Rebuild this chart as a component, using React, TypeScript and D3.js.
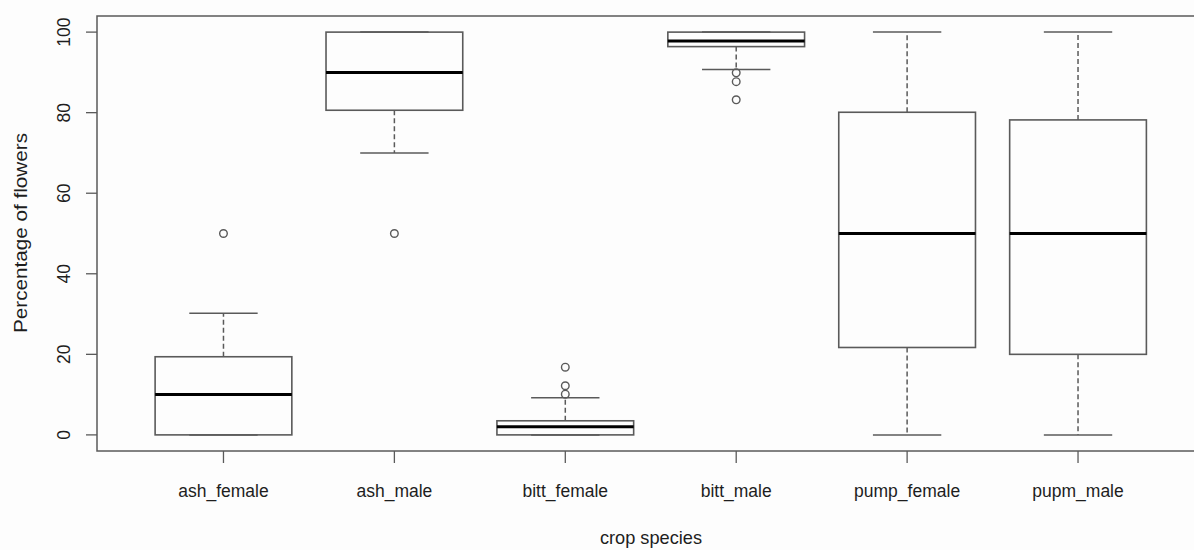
import React from "react";
import * as d3 from "d3";

// crop species categories
const categories = ["ash_female", "ash_male", "bitt_female", "bitt_male", "pump_female", "pupm_male"];

// five-number summaries
const lowerWhisker = [0, 70, 0, 90.7, 0, 0];
const q1 = [0, 80.6, 0, 96.4, 21.7, 20];
const median = [10, 90, 2, 97.8, 50, 50];
const q3 = [19.4, 100, 3.5, 100, 80.1, 78.2];
const upperWhisker = [30.2, 100, 9.2, 100, 100, 100];
const outliers = [[50], [50], [10.1, 12.2, 16.8], [89.9, 87.7, 83.2], [], []];

const yTicks = [0, 20, 40, 60, 80, 100];

const W = 1194;
const H = 550;
const font = "'Liberation Sans', Arial, sans-serif";
const lineCol = "#5a5a5a";
const textCol = "#1e1e1e";

const App = () => {
    // R style: xlim 0.5..n+0.5 and ylim 0..100, both padded by 4%
    const x = d3.scaleLinear().domain([0.26, 6.74]).range([97, 1204.5]);
    const y = d3.scaleLinear().domain([-4, 104]).range([451, 16]);

    const step = x(2) - x(1);
    const boxW = step * 0.8;
    const capW = boxW / 2;

    return (
        <svg width={W} height={H} style={{ position: "absolute", left: 0, top: 0, background: "#fdfdfd" }}>
            {/* plot frame (right edge runs off the image) */}
            <rect x={97} y={16} width={1204.5 - 97} height={451 - 16} fill="none" stroke={lineCol} strokeWidth={1.5} />

            {/* y axis ticks */}
            {yTicks.map(t => (
                <g key={t}>
                    <line x1={86} x2={97} y1={y(t)} y2={y(t)} stroke={lineCol} strokeWidth={1.3} />
                    <text transform={`translate(70,${y(t)}) rotate(-90)`} textAnchor="middle"
                        fontFamily={font} fontSize={17.5} fill={textCol}>{t}</text>
                </g>
            ))}
            <text transform={`translate(27,233) rotate(-90) scale(1.15,1)`} textAnchor="middle"
                fontFamily={font} fontSize={18} fill={textCol}>Percentage of flowers</text>

            {/* x axis ticks and labels */}
            {categories.map((c, i) => (
                <g key={c}>
                    <line x1={x(i + 1)} x2={x(i + 1)} y1={451} y2={463} stroke={lineCol} strokeWidth={1.3} />
                    <text x={x(i + 1)} y={497} textAnchor="middle" fontFamily={font} fontSize={17.5} fill={textCol}>{c}</text>
                </g>
            ))}
            <text x={651} y={544} textAnchor="middle" fontFamily={font} fontSize={18.2} fill={textCol}>crop species</text>

            {/* boxes */}
            {categories.map((c, i) => {
                const cx = x(i + 1);
                return (
                    <g key={"box" + c}>
                        <line x1={cx} x2={cx} y1={y(q3[i])} y2={y(upperWhisker[i])} stroke={lineCol} strokeWidth={1.5} strokeDasharray="5,3" />
                        <line x1={cx} x2={cx} y1={y(q1[i])} y2={y(lowerWhisker[i])} stroke={lineCol} strokeWidth={1.5} strokeDasharray="5,3" />
                        <line x1={cx - capW / 2} x2={cx + capW / 2} y1={y(upperWhisker[i])} y2={y(upperWhisker[i])} stroke={lineCol} strokeWidth={1.5} />
                        <line x1={cx - capW / 2} x2={cx + capW / 2} y1={y(lowerWhisker[i])} y2={y(lowerWhisker[i])} stroke={lineCol} strokeWidth={1.5} />
                        <rect x={cx - boxW / 2} y={y(q3[i])} width={boxW} height={y(q1[i]) - y(q3[i])}
                            fill="none" stroke={lineCol} strokeWidth={1.6} />
                        <line x1={cx - boxW / 2} x2={cx + boxW / 2} y1={y(median[i])} y2={y(median[i])} stroke="#000" strokeWidth={3} />
                        {outliers[i].map((v, k) => (
                            <circle key={k} cx={cx} cy={y(v)} r={3.8} fill="none" stroke={lineCol} strokeWidth={1.4} />
                        ))}
                    </g>
                );
            })}
        </svg>
    );
};

export default App;
